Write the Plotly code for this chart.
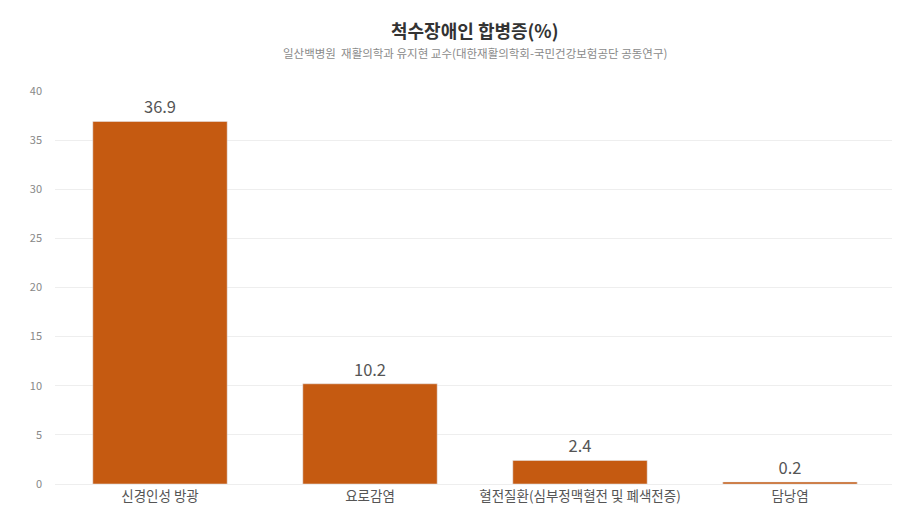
import plotly.graph_objects as go

categories = ["신경인성 방광", "요로감염", "혈전질환(심부정맥혈전 및 폐색전증)", "담낭염"]
values = [36.9, 10.2, 2.4, 0.2]
value_labels = ["36.9", "10.2", "2.4", "0.2"]
y_ticks = [0, 5, 10, 15, 20, 25, 30, 35, 40]

FONT = "Noto Sans CJK KR"
W, H = 900, 517
ML, MR, MT, MB = 47, 13, 83, 41

fig = go.Figure(go.Bar(
    x=categories, y=values,
    text=value_labels, textposition="outside",
    textfont=dict(family=FONT, size=16.5, color="#555555"),
    marker=dict(color="#C55A11"),
    cliponaxis=False,
    hoverinfo="skip",
))

plot_h = H - MT - MB


def py(px):
    # pixel (from top of figure) -> paper y
    return (H - MB - px) / plot_h


fig.update_layout(
    width=W, height=H,
    margin=dict(l=ML, r=MR, t=MT, b=MB),
    paper_bgcolor="white", plot_bgcolor="white",
    bargap=0.36,
    showlegend=False,
    font=dict(family=FONT),
    annotations=[
        dict(text="<b>척수장애인 합병증(%)</b>", x=0.5, y=py(22), xref="paper", yref="paper",
             yanchor="middle", showarrow=False,
             font=dict(family=FONT, size=18, color="#333333")),
        dict(text="일산백병원  재활의학과 유지현 교수(대한재활의학회-국민건강보험공단 공동연구)",
             x=0.5, y=py(45), xref="paper", yref="paper", yanchor="middle", showarrow=False,
             font=dict(family=FONT, size=11.5, color="#8a8a8a")),
    ],
)

fig.update_xaxes(
    showgrid=False, showline=True, linecolor="#eeeeee", ticks="",
    tickfont=dict(family=FONT, size=13.5, color="#555555"),
)
fig.update_yaxes(
    range=[0, 40], tickvals=y_ticks, showgrid=True, gridcolor="#eeeeee",
    zeroline=False, showline=False, ticks="", ticklabelstandoff=12,
    tickfont=dict(family=FONT, size=11, color="#888888"),
)

fig.write_html("out.html")
